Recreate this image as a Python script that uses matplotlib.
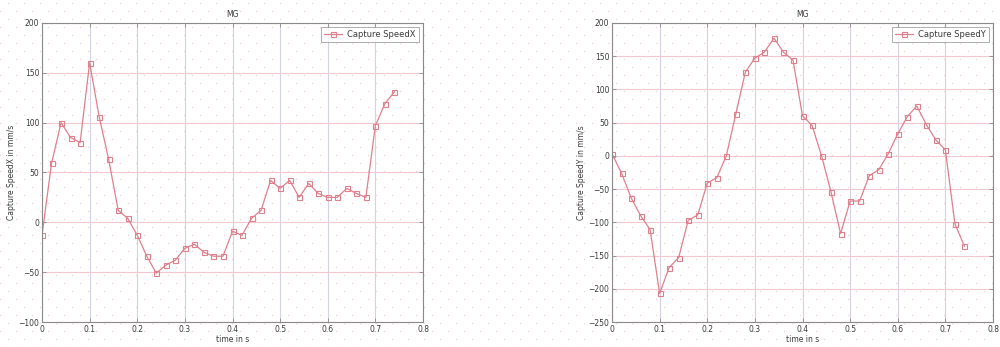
import numpy as np
import matplotlib
matplotlib.use("Agg")
import matplotlib.pyplot as plt

# Sample times (s)
time_s = [0.00, 0.02, 0.04, 0.06, 0.08, 0.10, 0.12, 0.14, 0.16, 0.18,
          0.20, 0.22, 0.24, 0.26, 0.28, 0.30, 0.32, 0.34, 0.36, 0.38,
          0.40, 0.42, 0.44, 0.46, 0.48, 0.50, 0.52, 0.54, 0.56, 0.58,
          0.60, 0.62, 0.64, 0.66, 0.68, 0.70, 0.72, 0.74]

# Capture speed components (mm/s)
speed_x = [-13, 59, 100, 85, 80, 160, 106, 63, 12, 4,
           -13, -34, -51, -43, -38, -26, -22, -30, -34, -34,
           -9, -13, 4, 12, 42, 34, 42, 25, 39, 29,
           25, 25, 34, 29, 25, 97, 119, 131]

speed_y = [3, -26, -63, -90, -111, -207, -168, -153, -97, -89,
           -41, -33, 0, 63, 126, 147, 156, 177, 156, 144,
           60, 46, 0, -55, -117, -68, -68, -30, -21, 3,
           33, 59, 75, 47, 24, 9, -102, -136]

title_text = "MG"
x_label = "time in s"
x_ticks = [0, 0.1, 0.2, 0.3, 0.4, 0.5, 0.6, 0.7, 0.8]
x_tick_labels = ["0", "0.1", "0.2", "0.3", "0.4", "0.5", "0.6", "0.7", "0.8"]

panels = [
    dict(values=speed_x, label="Capture SpeedX", ylabel="Capture SpeedX in mm/s",
         ylim=(-100, 200), yticks=[-100, -50, 0, 50, 100, 150, 200],
         rect=[0.042, 0.072, 0.381, 0.862]),
    dict(values=speed_y, label="Capture SpeedY", ylabel="Capture SpeedY in mm/s",
         ylim=(-250, 200), yticks=[-250, -200, -150, -100, -50, 0, 50, 100, 150, 200],
         rect=[0.612, 0.072, 0.381, 0.862]),
]

line_color = "#e0808c"
vgrid_color = "#d4d2e2"
hgrid_color = "#f2c8d0"
frame_color = "#8a8a8a"
text_color = "#3a3a3a"

fig = plt.figure(figsize=(10, 3.47), dpi=100)
fig.patch.set_facecolor("white")

# Faint dotted paper texture behind everything
bg = fig.add_axes([0, 0, 1, 1], zorder=-10)
bg.set_xlim(0, 1000)
bg.set_ylim(0, 347)
bg.axis("off")
gx, gy = np.meshgrid(np.arange(0, 1000, 16), np.arange(0, 347, 8))
gx = gx + (np.arange(gx.shape[0])[:, None] % 2) * 8
bg.scatter(gx.ravel(), gy.ravel(), s=1.2, color="#f3d6dc", linewidths=0)

for p in panels:
    ax = fig.add_axes(p["rect"])
    ax.patch.set_alpha(0)
    ax.plot(time_s, p["values"], color=line_color, linewidth=0.9,
            marker="s", markersize=3.6, markerfacecolor="none",
            markeredgecolor=line_color, markeredgewidth=0.8, label=p["label"])
    ax.set_xlim(0, 0.8)
    ax.set_ylim(*p["ylim"])
    ax.set_xticks(x_ticks)
    ax.set_xticklabels(x_tick_labels)
    ax.set_yticks(p["yticks"])
    ax.xaxis.grid(True, color=vgrid_color, linewidth=0.8)
    ax.yaxis.grid(True, color=hgrid_color, linewidth=0.8)
    ax.set_axisbelow(True)
    for s in ax.spines.values():
        s.set_color(frame_color)
        s.set_linewidth(0.8)
    ax.tick_params(direction="in", length=3, width=0.6, color=frame_color,
                   labelsize=5.5, labelcolor=text_color, pad=2,
                   top=True, right=True)
    ax.set_title(title_text, fontsize=5.5, color=text_color, pad=4)
    ax.set_xlabel(x_label, fontsize=5.5, color=text_color, labelpad=1)
    ax.set_ylabel(p["ylabel"], fontsize=5.5, color=text_color, labelpad=2)
    leg = ax.legend(loc="upper right", fontsize=6, frameon=True, fancybox=False,
                    borderpad=0.35, handlelength=2.2, handletextpad=0.6,
                    borderaxespad=0.5)
    leg.get_frame().set_edgecolor(frame_color)
    leg.get_frame().set_linewidth(0.6)
    for t in leg.get_texts():
        t.set_color(text_color)

fig.savefig("out.png", dpi=100, facecolor="white")
